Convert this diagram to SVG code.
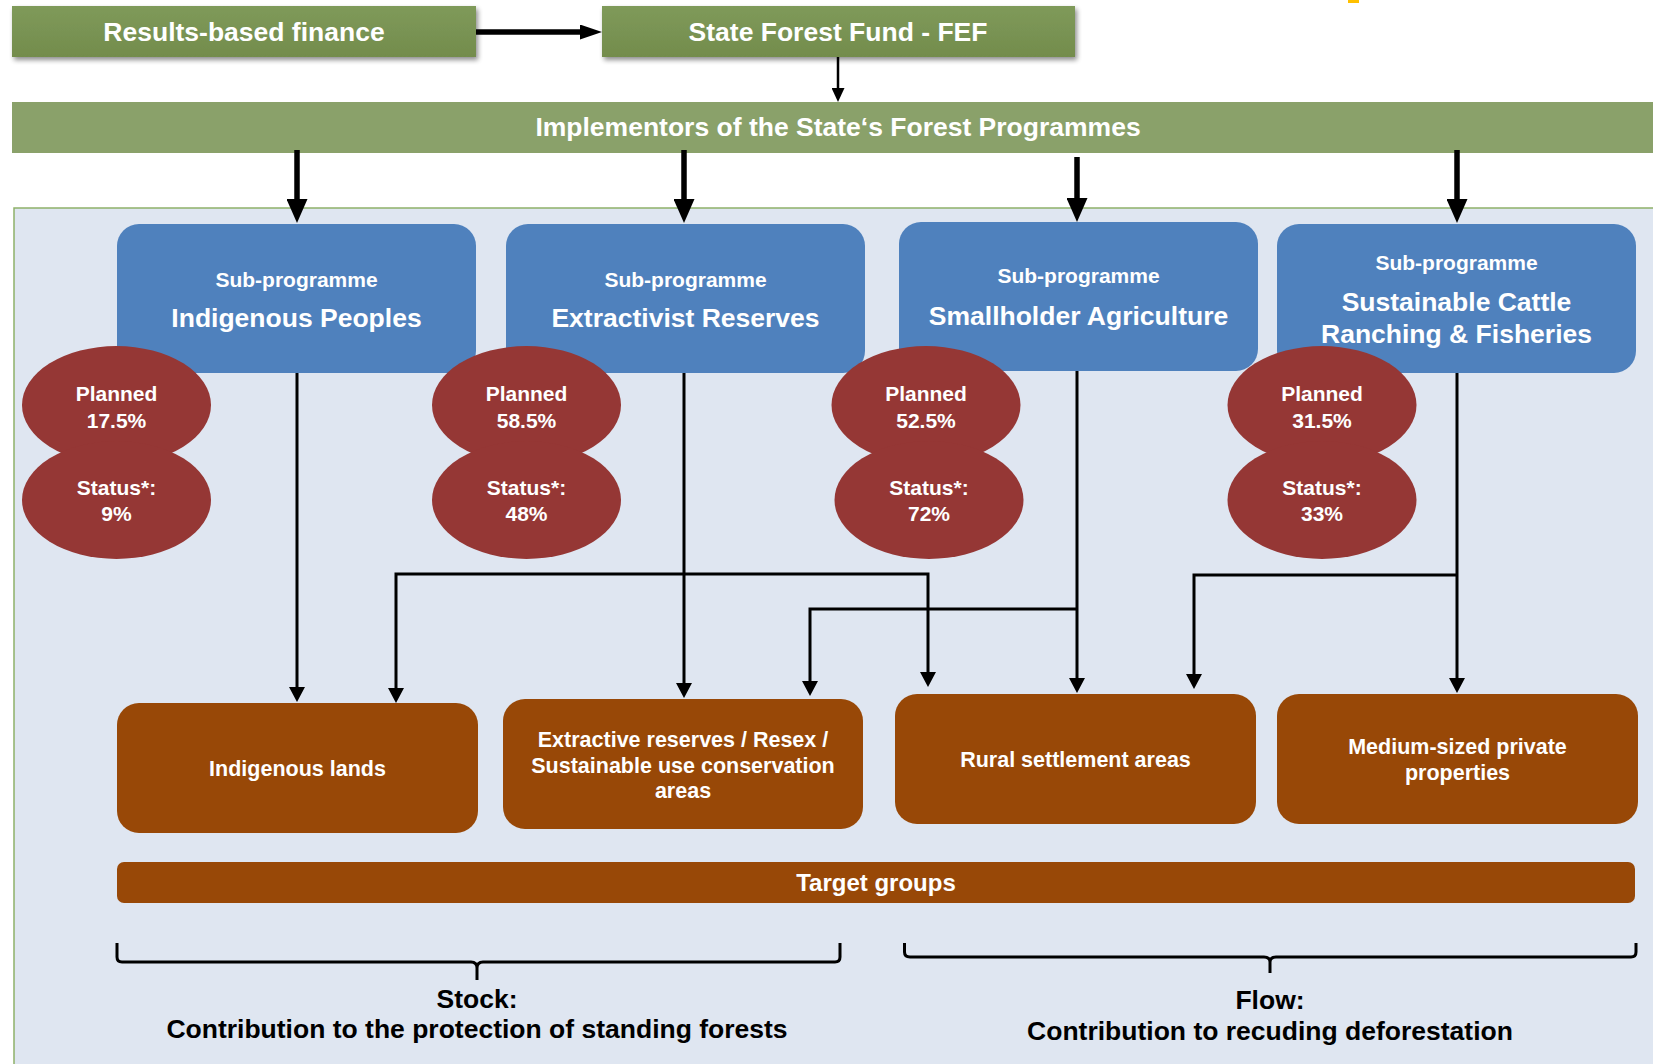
<svg xmlns="http://www.w3.org/2000/svg" width="1653" height="1064" viewBox="0 0 1653 1064">
  <style>
    text { font-family: "Liberation Sans", Arial, sans-serif; font-weight: bold; text-anchor: middle; }
    .w { fill: #ffffff; }
    .k { fill: #000000; }
    .title { font-size: 26.5px; }
    .sub { font-size: 21px; }
    .share { font-size: 21px; }
    .target { font-size: 21.5px; }
    .blue { fill: #4f81bd; }
    .red { fill: #953735; }
    .brown { fill: #984807; }
    .conn { fill: none; stroke: #000000; stroke-width: 3; }
    .thick { fill: none; stroke: #000000; stroke-width: 5.5; }
    .brace { fill: none; stroke: #000000; stroke-width: 3; stroke-linejoin: round; }
  </style>
  <defs>
    <linearGradient id="topGreen" x1="0" y1="0" x2="0" y2="1">
      <stop offset="0" stop-color="#7f9a5a"/>
      <stop offset="1" stop-color="#738c4c"/>
    </linearGradient>
    <filter id="shadow" x="-5%" y="-20%" width="115%" height="160%">
      <feGaussianBlur in="SourceAlpha" stdDeviation="2.5"/>
      <feOffset dx="2" dy="3" result="b"/>
      <feComponentTransfer><feFuncA type="linear" slope="0.45"/></feComponentTransfer>
      <feMerge><feMergeNode/><feMergeNode in="SourceGraphic"/></feMerge>
    </filter>
    <!-- arrowheads drawn from their base (refX=0) so the shaft stops at the base -->
    <marker id="headThin" markerUnits="userSpaceOnUse" markerWidth="15" markerHeight="16" refX="0" refY="8" orient="auto">
      <path d="M0,0 L15,8 L0,16 z" fill="#000"/>
    </marker>
    <marker id="headThick" markerUnits="userSpaceOnUse" markerWidth="24" markerHeight="21" refX="0" refY="10.5" orient="auto">
      <path d="M0,0 L24,10.5 L0,21 z" fill="#000"/>
    </marker>
    <marker id="headSide" markerUnits="userSpaceOnUse" markerWidth="22" markerHeight="15" refX="0" refY="7.5" orient="auto">
      <path d="M0,0 L22,7.5 L0,15 z" fill="#000"/>
    </marker>
    <marker id="headSmall" markerUnits="userSpaceOnUse" markerWidth="14" markerHeight="13" refX="0" refY="6.5" orient="auto">
      <path d="M0,0 L14,6.5 L0,13 z" fill="#000"/>
    </marker>
  </defs>

  <!-- small yellow tick at the top edge -->
  <rect x="1348" y="0" width="11" height="3" fill="#ffc000"/>

  <!-- light panel holding the sub-programmes -->
  <rect id="panel" x="14" y="208" width="1660" height="900" fill="#dfe6f1" stroke="#8fb169" stroke-width="1.5"/>

  <!-- funding chain -->
  <g id="results-finance">
    <rect x="12" y="6" width="464" height="51" fill="url(#topGreen)" filter="url(#shadow)"/>
    <text class="title w" x="244" y="41">Results-based finance</text>
  </g>
  <g id="state-forest-fund">
    <rect x="602" y="6" width="473" height="51" fill="url(#topGreen)" filter="url(#shadow)"/>
    <text class="title w" x="838" y="41">State Forest Fund - FEF</text>
  </g>
  <g id="implementors">
    <rect x="12" y="102" width="1660" height="51" fill="#8aa16a"/>
    <text class="title w" x="838" y="136">Implementors of the State‘s Forest Programmes</text>
  </g>

  <!-- sub-programmes -->
  <g id="sp-indigenous">
    <rect class="blue" x="117" y="224" width="359" height="149" rx="22"/>
    <text class="sub w" x="296.5" y="287">Sub-programme</text>
    <text class="title w" x="296.5" y="327">Indigenous Peoples</text>
  </g>
  <g id="sp-extractivist">
    <rect class="blue" x="506" y="224" width="359" height="149" rx="22"/>
    <text class="sub w" x="685.5" y="287">Sub-programme</text>
    <text class="title w" x="685.5" y="327">Extractivist Reserves</text>
  </g>
  <g id="sp-smallholder">
    <rect class="blue" x="899" y="222" width="359" height="149" rx="22"/>
    <text class="sub w" x="1078.5" y="283">Sub-programme</text>
    <text class="title w" x="1078.5" y="325">Smallholder Agriculture</text>
  </g>
  <g id="sp-cattle">
    <rect class="blue" x="1277" y="224" width="359" height="149" rx="22"/>
    <text class="sub w" x="1456.5" y="270">Sub-programme</text>
    <text class="title w" x="1456.5" y="311">Sustainable Cattle</text>
    <text class="title w" x="1456.5" y="343">Ranching &amp; Fisheries</text>
  </g>

  <!-- planned / status shares -->
  <g id="share-indigenous">
    <ellipse class="red" cx="116.5" cy="405" rx="94.5" ry="59"/>
    <ellipse class="red" cx="116.5" cy="500" rx="94.5" ry="59"/>
    <text class="share w" x="116.5" y="401">Planned</text>
    <text class="share w" x="116.5" y="428">17.5%</text>
    <text class="share w" x="116.5" y="495">Status*:</text>
    <text class="share w" x="116.5" y="521">9%</text>
  </g>
  <g id="share-extractivist">
    <ellipse class="red" cx="526.5" cy="405" rx="94.5" ry="59"/>
    <ellipse class="red" cx="526.5" cy="500" rx="94.5" ry="59"/>
    <text class="share w" x="526.5" y="401">Planned</text>
    <text class="share w" x="526.5" y="428">58.5%</text>
    <text class="share w" x="526.5" y="495">Status*:</text>
    <text class="share w" x="526.5" y="521">48%</text>
  </g>
  <g id="share-smallholder">
    <ellipse class="red" cx="926" cy="405" rx="94.5" ry="59"/>
    <ellipse class="red" cx="929" cy="500" rx="94.5" ry="59"/>
    <text class="share w" x="926" y="401">Planned</text>
    <text class="share w" x="926" y="428">52.5%</text>
    <text class="share w" x="929" y="495">Status*:</text>
    <text class="share w" x="929" y="521">72%</text>
  </g>
  <g id="share-cattle">
    <ellipse class="red" cx="1322" cy="405" rx="94.5" ry="59"/>
    <ellipse class="red" cx="1322" cy="500" rx="94.5" ry="59"/>
    <text class="share w" x="1322" y="401">Planned</text>
    <text class="share w" x="1322" y="428">31.5%</text>
    <text class="share w" x="1322" y="495">Status*:</text>
    <text class="share w" x="1322" y="521">33%</text>
  </g>

  <!-- target areas -->
  <g id="indigenous-lands">
    <rect class="brown" x="117" y="703" width="361" height="130" rx="22"/>
    <text class="target w" x="297.5" y="776">Indigenous lands</text>
  </g>
  <g id="extractive-reserves">
    <rect class="brown" x="503" y="699" width="360" height="130" rx="22"/>
    <text class="target w" x="683" y="747">Extractive reserves / Resex /</text>
    <text class="target w" x="683" y="773">Sustainable use conservation</text>
    <text class="target w" x="683" y="798">areas</text>
  </g>
  <g id="rural-settlements">
    <rect class="brown" x="895" y="694" width="361" height="130" rx="22"/>
    <text class="target w" x="1075.5" y="767">Rural settlement areas</text>
  </g>
  <g id="private-properties">
    <rect class="brown" x="1277" y="694" width="361" height="130" rx="22"/>
    <text class="target w" x="1457.5" y="754">Medium-sized private</text>
    <text class="target w" x="1457.5" y="780">properties</text>
  </g>

  <g id="target-groups">
    <rect class="brown" x="117" y="862" width="1518" height="41" rx="7"/>
    <text class="target w" x="876" y="891" style="font-size:24px">Target groups</text>
  </g>

  <!-- stock / flow summary -->
  <g id="stock">
    <path class="brace" d="M117,943 V957 Q117,962 122,962 H471 Q477,962 477,968 V980 M477,968 Q477,962 483,962 H835 Q840,962 840,957 V943"/>
    <text class="title k" x="477" y="1008">Stock:</text>
    <text class="title k" x="477" y="1038">Contribution to the protection of standing forests</text>
  </g>
  <g id="flow">
    <path class="brace" d="M904.5,943 V952 Q904.5,957 910,957 H1264 Q1270,957 1270,962 V973 M1270,962 Q1270,957 1276,957 H1631 Q1636,957 1636,952 V943"/>
    <text class="title k" x="1270" y="1009">Flow:</text>
    <text class="title k" x="1270" y="1040">Contribution to recuding deforestation</text>
  </g>

  <!-- connectors -->
  <g id="connectors">
    <line class="thick" x1="476" y1="32" x2="580" y2="32" marker-end="url(#headSide)"/>
    <line class="conn" style="stroke-width:2.5" x1="838" y1="57" x2="838" y2="88" marker-end="url(#headSmall)"/>

    <line class="thick" x1="297" y1="150" x2="297" y2="199" marker-end="url(#headThick)"/>
    <line class="thick" x1="684" y1="150" x2="684" y2="199" marker-end="url(#headThick)"/>
    <line class="thick" x1="1077" y1="157" x2="1077" y2="198" marker-end="url(#headThick)"/>
    <line class="thick" x1="1457" y1="150" x2="1457" y2="199" marker-end="url(#headThick)"/>

    <line class="conn" x1="297" y1="373" x2="297" y2="687" marker-end="url(#headThin)"/>
    <line class="conn" x1="684" y1="373" x2="684" y2="683" marker-end="url(#headThin)"/>
    <path class="conn" d="M684,574 H396 V688" marker-end="url(#headThin)"/>
    <path class="conn" d="M684,574 H928 V672" marker-end="url(#headThin)"/>

    <line class="conn" x1="1077" y1="371" x2="1077" y2="678" marker-end="url(#headThin)"/>
    <path class="conn" d="M1077,609 H810 V681" marker-end="url(#headThin)"/>

    <line class="conn" x1="1457" y1="373" x2="1457" y2="678" marker-end="url(#headThin)"/>
    <path class="conn" d="M1457,575 H1194 V674" marker-end="url(#headThin)"/>
  </g>
</svg>
